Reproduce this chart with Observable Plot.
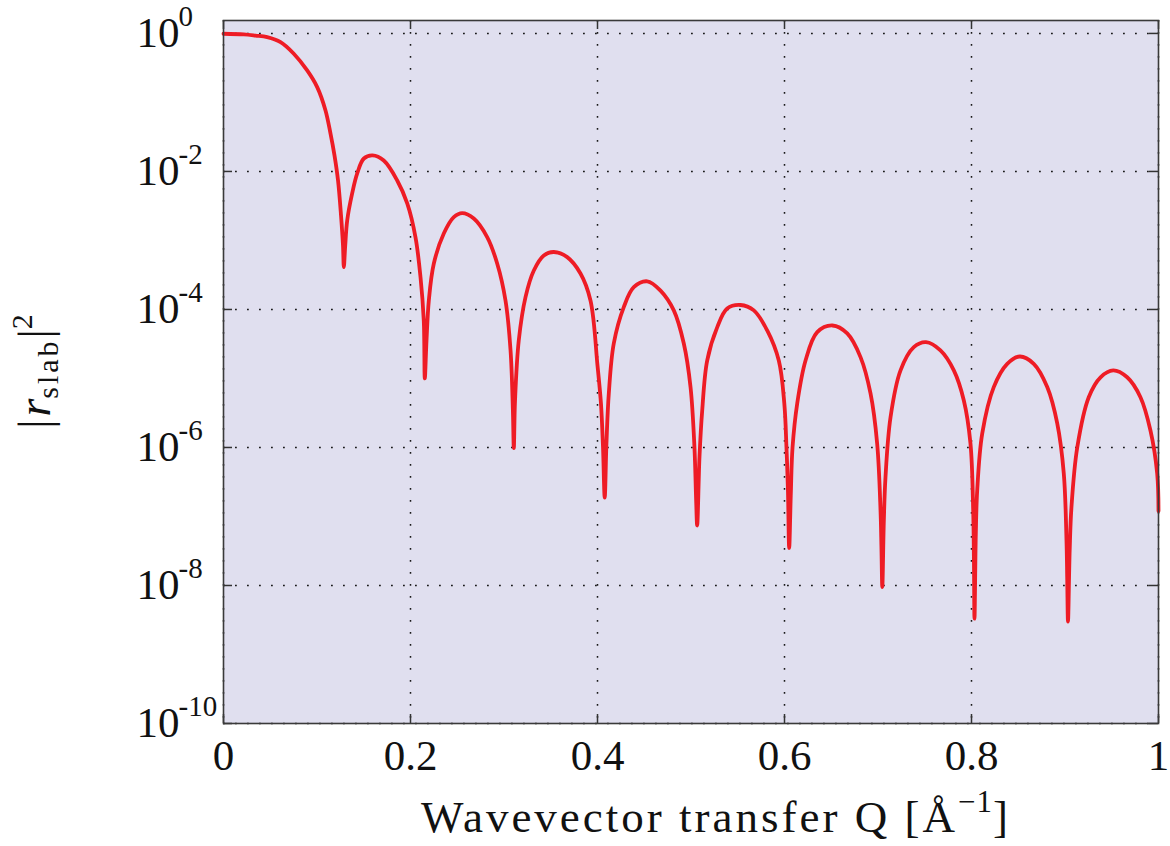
<!DOCTYPE html>
<html><head><meta charset="utf-8">
<script src="https://cdn.jsdelivr.net/npm/d3@7"></script>
<script src="https://cdn.jsdelivr.net/npm/@observablehq/plot@0.6"></script>
<style>body{margin:0;background:#fff;} svg{display:block;}</style>
</head><body><div id="chart"></div>
<script>
// Wavevector transfer Q [1/Å]
const Q = [
  0.000, 0.0217, 0.0342, 0.0467, 0.061, 0.0752, 0.0895, 0.1002, 0.1091, 0.1144,
  0.1187, 0.1225, 0.1257, 0.1278, 0.1287, 0.1302, 0.1323, 0.1376, 0.143, 0.1501,
  0.1594, 0.1714, 0.1858, 0.1965, 0.2053, 0.2107, 0.2142, 0.2153, 0.2171, 0.2196,
  0.2249, 0.2356, 0.2463, 0.2553, 0.2677, 0.282, 0.2927, 0.3016, 0.307, 0.3095,
  0.3105, 0.3118, 0.3158, 0.323, 0.3319, 0.3426, 0.3533, 0.3676, 0.3818, 0.3925,
  0.4, 0.4037, 0.4059, 0.4077, 0.4096, 0.4121, 0.4174, 0.4281, 0.4388, 0.4532,
  0.4674, 0.4816, 0.4923, 0.4995, 0.5037, 0.5055, 0.5066, 0.5091, 0.512, 0.5173,
  0.528, 0.5387, 0.5529, 0.5672, 0.5815, 0.5939, 0.5998, 0.6021, 0.6037, 0.605,
  0.6067, 0.6086, 0.6136, 0.6225, 0.635, 0.6513, 0.6671, 0.6813, 0.692, 0.6991,
  0.7027, 0.7037, 0.7046, 0.7062, 0.708, 0.7134, 0.7241, 0.7383, 0.7513, 0.7668,
  0.7811, 0.7918, 0.7989, 0.8018, 0.8026, 0.8032, 0.8046, 0.8061, 0.8115, 0.8238,
  0.8382, 0.8517, 0.8666, 0.881, 0.8917, 0.8987, 0.9016, 0.9024, 0.9032, 0.905,
  0.9069, 0.9131, 0.9254, 0.938, 0.9516, 0.9665, 0.9807, 0.9914, 0.9986, 1.0
];
// |r_slab|^2
const R = [
  0.99, 0.967, 0.929, 0.883, 0.748, 0.508, 0.291, 0.167, 0.0766, 0.0356,
  0.0171, 7.4e-3, 2.3e-3, 8.5e-4, 4.1e-4, 8.5e-4, 1.95e-3, 4.8e-3, 9.35e-3, 0.0154,
  0.0171, 0.0144, 7.4e-3, 3.44e-3, 1.12e-3, 2.94e-4, 6.9e-5, 1.0e-5, 3.5e-5, 1.35e-4,
  4.6e-4, 1.26e-3, 2.18e-3, 2.49e-3, 2.08e-3, 1.12e-3, 4.64e-4, 1.35e-4, 2.55e-5, 3.5e-6,
  9.8e-7, 4.8e-6, 3.56e-5, 1.51e-4, 3.67e-4, 6.06e-4, 6.8e-4, 5.73e-4, 3.32e-4, 1.35e-4,
  1.54e-5, 4.34e-6, 1.0e-6, 1.88e-7, 1.18e-6, 6.06e-6, 3.21e-5, 1.08e-4, 2.1e-4, 2.56e-4,
  1.88e-4, 9.7e-5, 3.21e-5, 7.5e-6, 1.0e-6, 1.71e-7, 7.4e-8, 7.4e-7, 3.44e-6, 1.82e-5,
  5.5e-5, 1.03e-4, 1.16e-4, 9.7e-5, 4.97e-5, 1.82e-5, 4.34e-6, 1.0e-6, 2.38e-7, 3.5e-8,
  2.0e-7, 1.0e-6, 4.34e-6, 1.82e-5, 4.69e-5, 5.86e-5, 4.49e-5, 2.04e-5, 6.06e-6, 1.14e-6,
  1.22e-7, 3.4e-8, 9.5e-9, 8.2e-8, 3.7e-7, 2.75e-6, 1.31e-5, 2.84e-5, 3.36e-5, 2.55e-5,
  1.31e-5, 4.8e-6, 1.14e-6, 1.22e-7, 2.3e-8, 3.3e-9, 5.5e-8, 2.38e-7, 1.6e-6, 7.5e-6,
  1.63e-5, 2.08e-5, 1.63e-5, 7.5e-6, 2.23e-6, 4.2e-7, 4.5e-8, 1.18e-8, 3.0e-9, 3.2e-8,
  1.36e-7, 1.0e-6, 5.35e-6, 1.04e-5, 1.31e-5, 1.04e-5, 5.35e-6, 1.76e-6, 4.2e-7, 1.2e-7
];
const xTicks = [0, 0.2, 0.4, 0.6, 0.8, 1];
const xTickLabels = ["0", "0.2", "0.4", "0.6", "0.8", "1"];
const yTicks = [1, 1e-2, 1e-4, 1e-6, 1e-8, 1e-10];
const yTickBase = ["10", "10", "10", "10", "10", "10"];
const yTickExponents = ["0", "-2", "-4", "-6", "-8", "-10"];

const data = Q.map((q, i) => ({q, r: R[i]}));

const W = 1170, H = 846;
const mL = 223, mR = 12, mT = 20, mB = 123;
const plotW = W - mL - mR, plotH = H - mT - mB;
const tickLen = 9;
const gridStyle = {stroke: "#1a1a1a", strokeOpacity: 1, strokeWidth: 1.5, strokeDasharray: "1.8,10.2"};
const tickStyle = {stroke: "#333", strokeWidth: 1.5};
const font = "'Liberation Serif', 'Times New Roman', serif";

const chart = Plot.plot({
  width: W, height: H,
  marginLeft: mL, marginRight: mR, marginTop: mT, marginBottom: mB,
  style: {background: "#fff", fontFamily: font, color: "#111"},
  x: {domain: [0, 1], label: null},
  y: {type: "log", domain: [1e-10, 1.54], axis: null, label: null},
  marks: [
    Plot.frame({fill: "#e0dfef", stroke: "none"}),
    Plot.gridX(xTicks, gridStyle),
    Plot.gridY(yTicks, gridStyle),
    Plot.tickX(xTicks, {x: d => d, insetTop: plotH - tickLen, ...tickStyle}),
    Plot.tickX(xTicks, {x: d => d, insetBottom: plotH - tickLen, ...tickStyle}),
    Plot.tickY(yTicks, {y: d => d, insetRight: plotW - tickLen, ...tickStyle}),
    Plot.tickY(yTicks, {y: d => d, insetLeft: plotW - tickLen, ...tickStyle}),
    Plot.line(data, {x: "q", y: "r", stroke: "#ee1c25", strokeWidth: 3.8, curve: "catmull-rom", strokeLinejoin: "round", strokeLinecap: "round"}),
    Plot.frame({stroke: "#3a3a3a", strokeWidth: 1.6}),
    Plot.axisX(xTicks, {tickSize: 0, tickPadding: 16, fontSize: 43, label: null,
      tickFormat: d => xTickLabels[xTicks.indexOf(d)]}),
    Plot.text(yTicks, {y: d => d, text: (d, i) => yTickBase[i], frameAnchor: "left", textAnchor: "start", dx: -87, fontSize: 43, fill: "#111"}),
    Plot.text(yTicks, {y: d => d, text: (d, i) => yTickExponents[i], frameAnchor: "left", textAnchor: "start", dx: -45, dy: -17, fontSize: 29, fill: "#111"})
  ]
});

const svg = d3.select(chart);
// x-axis title
const xl = svg.append("text")
  .attr("x", 716).attr("y", 832)
  .attr("text-anchor", "middle")
  .attr("font-family", font).attr("font-size", 45)
  .attr("letter-spacing", 3).attr("fill", "#111");
xl.append("tspan").text("Wavevector transfer Q [Å");
xl.append("tspan").attr("dy", -20).attr("font-size", 31).attr("letter-spacing", 1).text("−1");
xl.append("tspan").attr("dy", 20).text("]");

// y-axis title
const yl = svg.append("text")
  .attr("transform", `translate(50,${mT + plotH / 2}) rotate(-90)`)
  .attr("text-anchor", "middle")
  .attr("font-family", font).attr("font-size", 46).attr("fill", "#111");
yl.append("tspan").text("|");
yl.append("tspan").attr("font-style", "italic").attr("dx", 3).text("r");
yl.append("tspan").attr("dy", 8).attr("font-size", 30).attr("letter-spacing", 3).text("slab");
yl.append("tspan").attr("dy", -8).text("|");
yl.append("tspan").attr("dy", -18).attr("font-size", 30).text("2");

document.getElementById("chart").appendChild(chart);
</script>
</body></html>
